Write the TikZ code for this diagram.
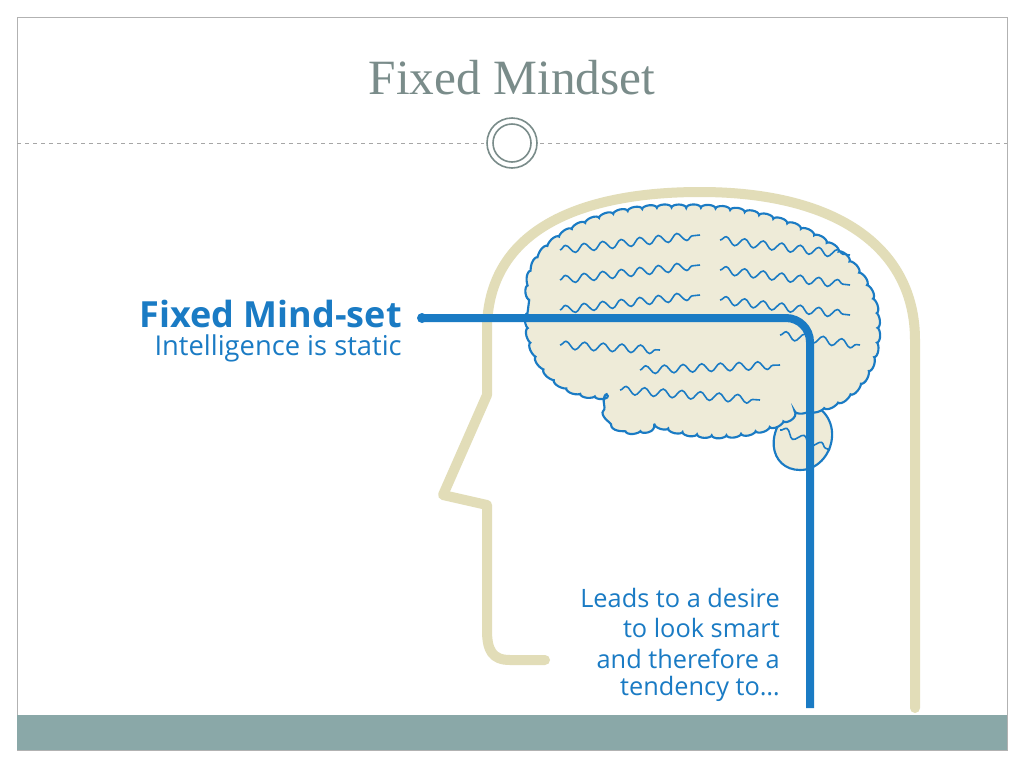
\documentclass[tikz,border=0pt]{standalone}
\usepackage{fontspec}
\setmainfont{Liberation Serif}
\newfontfamily\labelfont{Open Sans}
\usetikzlibrary{decorations.pathmorphing}
\definecolor{titlegray}{HTML}{7A8C8A}
\definecolor{barteal}{HTML}{8AA8A8}
\definecolor{headbeige}{HTML}{E2DDB8}
\definecolor{mindblue}{HTML}{1A7BC4}
\definecolor{brainfill}{HTML}{EEEBD8}
\tikzset{
  headline/.style={draw=headbeige, line width=7.5pt, line cap=round, line join=round},
  mindline/.style={draw=mindblue, line width=6pt, rounded corners=18pt},
  brainedge/.style={draw=mindblue, line width=1.6pt, fill=brainfill},
  fold/.style={draw=mindblue, line width=1.2pt, decorate, decoration={snake, amplitude=3pt, segment length=14pt}},
  blue text/.style={text=mindblue, font=\labelfont, anchor=east, inner sep=0pt}
}
\begin{document}
\begin{tikzpicture}[x=0.75pt,y=-0.75pt]
  \useasboundingbox (0,0) rectangle (1024,768);
  \fill[white] (0,0) rectangle (1024,768);
  % slide frame
  \draw[gray!60, line width=0.6pt] (17,17) rectangle (1007,750);
  \fill[barteal] (17,715) rectangle (1007,750);
  \node[text=titlegray, font=\fontsize{37}{42}\selectfont] (title) at (512,78) {Fixed Mindset};
  \draw[gray!70, dashed, line width=0.5pt] (17,143) -- (484,143);
  \draw[gray!70, dashed, line width=0.5pt] (540,143) -- (1007,143);
  \draw[titlegray, line width=1.2pt] (512,143) circle (25);
  \draw[titlegray, line width=1.2pt] (512,143) circle (19);
  % head
  \draw[headline] (545,660) -- (510,660) .. controls (492,660) and (487,650) .. (487,630)
    -- (487,505) -- (443,495) -- (487,395) -- (487,330)
    .. controls (487,230) and (580,192) .. (700,192)
    .. controls (840,192) and (915,250) .. (915,340) -- (915,708);
  % brain
  \draw[brainedge] (800,400) .. controls (850,410) and (835,470) .. (800,470)
    .. controls (770,470) and (760,430) .. (800,400) -- cycle;
  \draw[brainedge, decorate, decoration={bumps, amplitude=2.5pt, segment length=22pt}]
    (530,300) .. controls (520,240) and (600,205) .. (680,208)
    .. controls (770,205) and (860,240) .. (875,310)
    .. controls (885,370) and (850,410) .. (800,410)
    .. controls (760,440) and (700,440) .. (660,425)
    .. controls (620,440) and (600,420) .. (610,395)
    .. controls (560,400) and (520,360) .. (530,300) -- cycle;
  \foreach \y in {240,270,300} {
    \draw[fold] (560,\y+10) -- (700,\y-5);
    \draw[fold] (720,\y) -- (850,\y+15);
  }
  \draw[fold] (560,345) -- (660,350);
  \draw[fold] (620,390) -- (760,400);
  \draw[fold] (640,370) -- (780,365);
  \draw[fold] (780,335) -- (860,345);
  \draw[fold] (780,430) -- (830,450);
  % blue line and labels
  \fill[mindblue] (422,318) circle (5);
  \draw[mindline] (422,318) -- (810,318) -- (810,708);
  \node[blue text, font=\labelfont\bfseries\fontsize{27}{30}\selectfont] (fixed) at (402,314) {Fixed Mind-set};
  \node[blue text, font=\labelfont\fontsize{20.5}{24}\selectfont] (static) at (402,348) {Intelligence is static};
  \foreach \t [count=\i] in {{Leads to a desire}, {to look smart}, {and therefore a}, {tendency to\ldots}}
    \node[blue text, font=\labelfont\fontsize{19}{22}\selectfont] (lead\i) at (780,567+30.5*\i) {\t};
\end{tikzpicture}
\end{document}
